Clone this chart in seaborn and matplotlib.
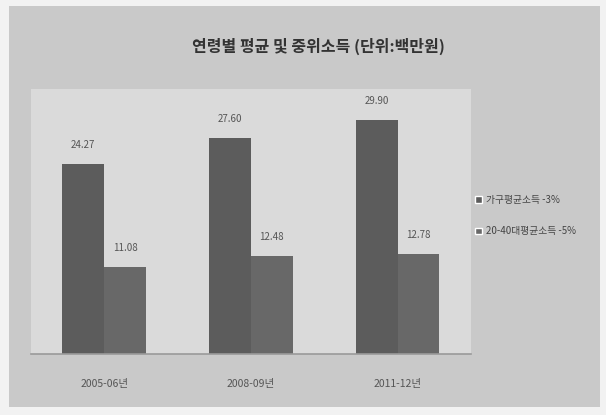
import numpy as np
import pandas as pd
import matplotlib.pyplot as plt
import seaborn as sns
from matplotlib.patches import Rectangle

# 데이터 (그림에서 읽은 추정값)
periods = ["2005-06년", "2008-09년", "2011-12년"]
series_names = ["가구평균소득 -3%", "20-40대평균소득 -5%"]
avg_income = [24.27, 27.6, 29.9]
young_income = [11.08, 12.48, 12.78]

df = pd.DataFrame({
    "period": periods * 2,
    "series": [series_names[0]] * 3 + [series_names[1]] * 3,
    "value": avg_income + young_income,
})

sns.set_theme(style="white")
plt.rcParams['font.family'] = ['Noto Sans CJK KR', 'DejaVu Sans']

fig = plt.figure(figsize=(6.06, 4.15), dpi=100)
fig.patch.set_facecolor('#f2f2f2')
# 슬라이드 배경
fig.add_artist(Rectangle((0.015, 0.02), 0.975, 0.965, transform=fig.transFigure,
                         facecolor='#c9c9c9', edgecolor='none', zorder=-2))

ax = fig.add_axes([0.051, 0.147, 0.726, 0.639])
ax.set_facecolor('#dadada')

sns.barplot(data=df, x="period", y="value", hue="series", ax=ax,
            palette=['#5c5c5c', '#686868'], width=0.57, saturation=1,
            edgecolor='none', legend=False)

for cont in ax.containers:
    ax.bar_label(cont, fmt='%.2f', padding=10, fontsize=7, color='#555555')

ax.set_xlim(-0.5, 2.5)
ax.set_ylim(0, 33.85)
ax.set_xlabel("")
ax.set_ylabel("")
ax.set_yticks([])
ax.tick_params(axis='x', length=0, pad=18, labelsize=7.5, labelcolor='#555555')
for s in ['top', 'right', 'left']:
    ax.spines[s].set_visible(False)
ax.spines['bottom'].set_color('#9a9a9a')
ax.spines['bottom'].set_linewidth(1.2)

fig.text(0.525, 0.888, "연령별 평균 및 중위소득 (단위:백만원)", ha='center', va='center',
         fontsize=11.5, color='#333333', fontweight='bold')

handles = [Rectangle((0, 0), 1, 1, facecolor=c) for c in ['#5c5c5c', '#686868']]
fig.legend(handles, series_names, loc='center left', bbox_to_anchor=(0.77, 0.48),
           frameon=False, fontsize=7, labelspacing=2.2, handlelength=0.7,
           handleheight=0.7, handletextpad=0.4, labelcolor='#444444')

fig.savefig("out.png", dpi=100, facecolor=fig.get_facecolor())
